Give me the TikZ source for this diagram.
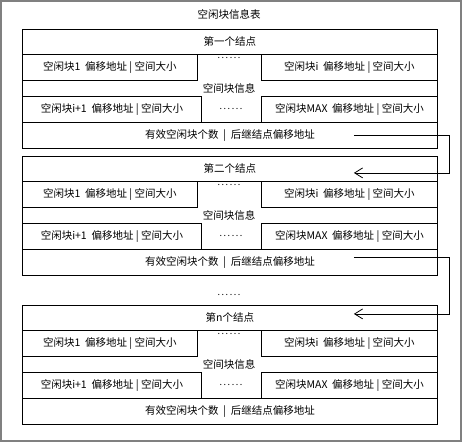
\documentclass[tikz,border=0pt]{standalone}
\usepackage{fontspec}
\newfontfamily\cjk{Noto Sans CJK SC}
\usetikzlibrary{positioning}
\usetikzlibrary{arrows.meta}

\begin{document}
\begin{tikzpicture}[
    x=1pt, y=-1pt,
    every node/.style={font=\cjk\fontsize{10.5}{12}\selectfont, inner sep=0pt},
    cell/.style={draw, line width=0.8pt, anchor=north west, minimum height=26pt},
    frame/.style={draw, line width=0.8pt, anchor=north west, minimum width=415pt, minimum height=119pt},
    dots/.style={font=\cjk\fontsize{9}{10}\selectfont},
    link/.style={draw, line width=0.8pt, -{Straight Barb[length=8pt,width=10pt]}}
  ]
    \useasboundingbox (0,0) rectangle (462,442);
    \draw[gray, line width=1.2pt] (1,1) rectangle (461,441);
    \node (title) at (229,14) {空闲块信息表};
    % three node records
    \foreach \k/\T/\name in {1/29/第一个结点, 2/156/第二个结点, 3/305/第n个结点}{
      \node[frame] (frame\k) at (22,\T) {};
      \node[cell, minimum width=415pt, minimum height=25pt] (hdr\k) at (22,\T) {\name};
      \node[cell, minimum width=175pt] (blkA\k) at (22,\T+25) {空闲块1~~偏移地址 | 空间大小};
      \node[dots] (dotsA\k) at (229,\T+29) {.\,.\,.\,.\,.\,.};
      \node[cell, minimum width=176pt] (blkB\k) at (261,\T+25) {空闲块i~~偏移地址 | 空间大小};
      \node (info\k) at (229,\T+59) {空间块信息};
      \node[cell, minimum width=179pt] (blkC\k) at (22,\T+67) {空闲块i+1~~偏移地址 | 空间大小};
      \node[dots] (dotsC\k) at (231,\T+80) {.\,.\,.\,.\,.\,.};
      \node[cell, minimum width=176pt] (blkD\k) at (261,\T+67) {空闲块MAX~~偏移地址 | 空间大小};
      \node[cell, minimum width=415pt] (tail\k) at (22,\T+93) {有效空闲块个数~~|~~后继结点偏移地址};
    }
    \node[dots] (gap) at (229,295) {.\,.\,.\,.\,.\,.};
    % successor offsets
    \draw[link] ([xshift=124pt]tail1.center) -- ([xshift=219pt]tail1.center) |- ([xshift=124pt,yshift=-4pt]hdr2.center);
    \draw[link] ([xshift=124pt,yshift=5pt]tail2.center) -- ([xshift=219pt,yshift=5pt]tail2.center) |- ([xshift=124pt,yshift=4pt]hdr3.center);
\end{tikzpicture}
\end{document}
